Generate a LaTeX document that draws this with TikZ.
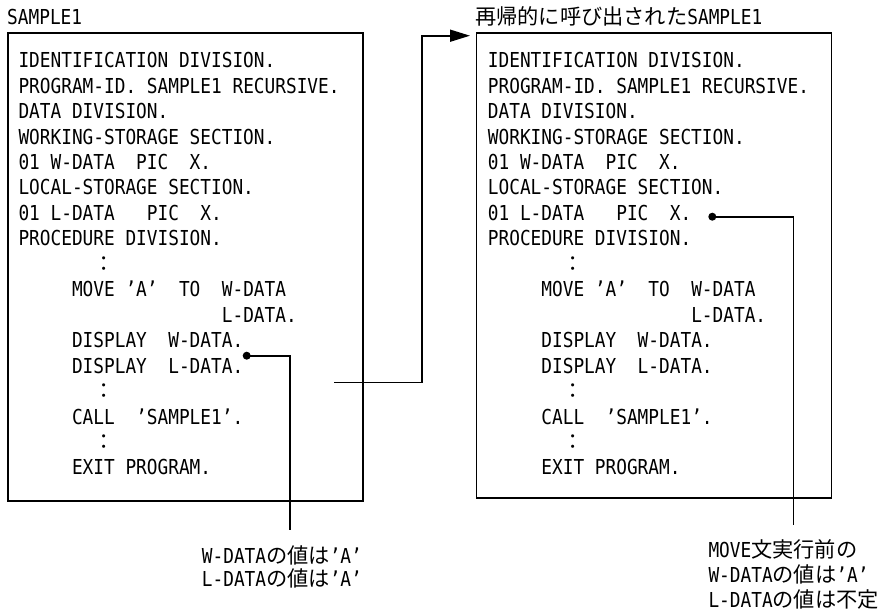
\documentclass[tikz,border=0pt]{standalone}
\usepackage{fontspec}
\setmainfont{DejaVu Sans Mono}[FakeStretch=0.863]
\newfontfamily\jp{Noto Sans CJK JP}[Scale=1.03]
\usetikzlibrary{arrows.meta}
\tikzset{
  codeline/.style={anchor=base west, inner sep=0pt},
  progbox/.style={draw, line width=1.6pt, anchor=north west, minimum width=355pt},
  dot/.style={circle, fill, inner sep=0pt, minimum size=8pt},
  lead/.style={line width=1.6pt},
  arr/.style={line width=1.6pt, -{Triangle[length=20pt,width=12pt]}},
}
% the same COBOL source in both boxes: #1 = node prefix, #2 = x of text
\newcommand{\progsrc}[2]{%
  \foreach \ln [count=\i from 0] in {%
    IDENTIFICATION DIVISION.,
    PROGRAM-ID. SAMPLE1 RECURSIVE.,
    DATA DIVISION.,
    WORKING-STORAGE SECTION.,
    01 W-DATA~~PIC~~X.,
    LOCAL-STORAGE SECTION.,
    01 L-DATA~~~PIC~~X.,
    PROCEDURE DIVISION.,
    ~~~~~~~{\jp ：},
    ~~~~~MOVE 'A'~~TO~~W-DATA,
    ~~~~~~~~~~~~~~~~~~~L-DATA.,
    ~~~~~DISPLAY~~W-DATA.,
    ~~~~~DISPLAY~~L-DATA.,
    ~~~~~~~{\jp ：},
    ~~~~~CALL~~'SAMPLE1'.,
    ~~~~~~~{\jp ：},
    ~~~~~EXIT PROGRAM.}
    \node[codeline] (#1\i) at (#2, 67.7+25.45*\i) {\ln};
}

\begin{document}
\begin{tikzpicture}[x=1pt, y=-1pt, font=\fontsize{20.6}{25}\selectfont]
  \useasboundingbox (0,0) rectangle (882,613);

  % caller
  \node[codeline] (ltitle) at (7,24.3) {SAMPLE1};
  \node[progbox, minimum height=468pt] (lbox) at (7,32) {};
  \progsrc{l}{18.3}

  % recursively called
  \node[codeline] (rtitle) at (475,24.5) {{\jp 再帰的に呼び出された}SAMPLE1};
  \node[progbox, minimum height=465pt] (rbox) at (475.5,32) {};
  \progsrc{r}{487.7}

  % CALL -> new instance
  \coordinate (callout) at (334,382.3);
  \coordinate (calltip) at (470,35.7);
  \draw[arr] (callout) -| ([xshift=-48pt]calltip) -- (calltip);

  % notes
  \node[dot] (wdot) at (246.7,355.7) {};
  \coordinate (wend) at (290,530);
  \draw[lead] (wdot.center) -| (wend);
  \node[codeline] (wnote1) at (201.7,563.3) {W-DATA{\jp の値は}'A'};
  \node[codeline] (wnote2) at (201.7,586.8) {L-DATA{\jp の値は}'A'};

  \node[dot] (ldot) at (712.3,216.7) {};
  \coordinate (lend) at (793.3,525);
  \draw[lead] (ldot.center) -| (lend);
  \node[codeline] (lnote1) at (708.3,557.5) {MOVE{\jp 文実行前の}};
  \node[codeline] (lnote2) at (708.3,582.5) {W-DATA{\jp の値は}'A'};
  \node[codeline] (lnote3) at (708.3,607.5) {L-DATA{\jp の値は不定}};
\end{tikzpicture}
\end{document}
